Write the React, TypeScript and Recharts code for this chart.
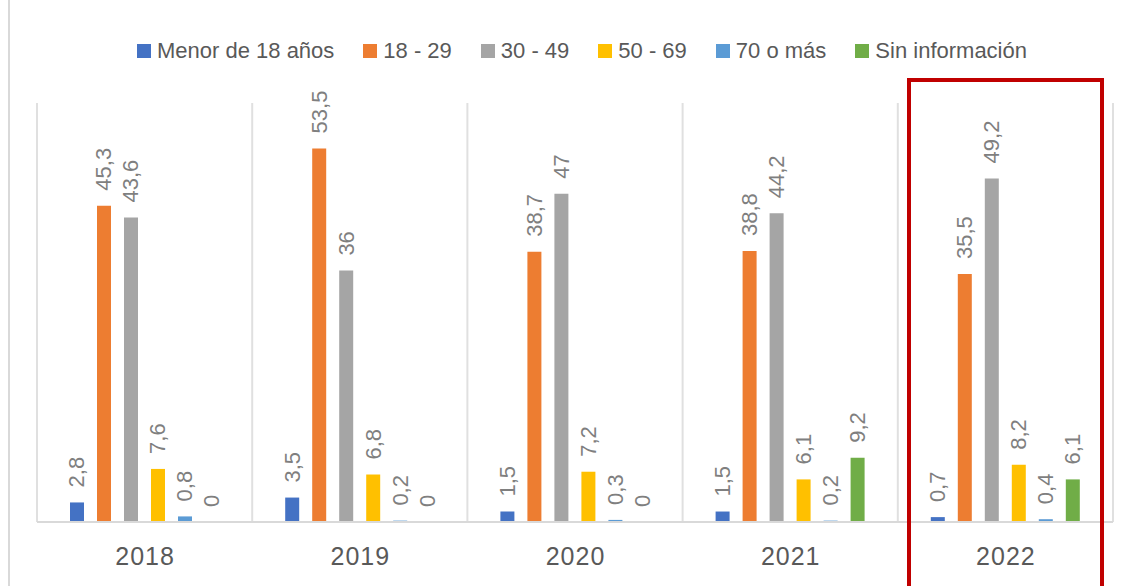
import React from "react";
import { BarChart, Bar, XAxis, YAxis, ReferenceLine, LabelList } from "recharts";

const years = ["2018", "2019", "2020", "2021", "2022"];
const seriesNames = ["Menor de 18 años", "18 - 29", "30 - 49", "50 - 69", "70 o más", "Sin información"];
const seriesColors = ["#4472C4", "#ED7D31", "#A5A5A5", "#FFC000", "#5B9BD5", "#70AD47"];

const menor18 = [2.8, 3.5, 1.5, 1.5, 0.7];
const de18a29 = [45.3, 53.5, 38.7, 38.8, 35.5];
const de30a49 = [43.6, 36, 47, 44.2, 49.2];
const de50a69 = [7.6, 6.8, 7.2, 6.1, 8.2];
const de70 = [0.8, 0.2, 0.3, 0.2, 0.4];
const sinInfo = [0, 0, 0, 9.2, 6.1];

const seriesValues = [menor18, de18a29, de30a49, de50a69, de70, sinInfo];
const keys = ["s0", "s1", "s2", "s3", "s4", "s5"];

const data = years.map((year, i) => {
	const row: any = { year };
	keys.forEach((k, j) => {
		row[k] = seriesValues[j][i];
	});
	return row;
});

const FONT = "'Liberation Sans', Arial, sans-serif";

const ValueLabel = (props: any) => {
	const { x, y, width, value } = props;
	const cx = Number(x) + Number(width) / 2;
	const cy = Number(y) - 15;
	return (
		<text
			x={cx}
			y={cy}
			transform={`rotate(-90 ${cx} ${cy})`}
			textAnchor="start"
			dominantBaseline="central"
			fill="#7F7F7F"
			fontSize={22}
			fontFamily={FONT}
		>
			{String(value).replace(".", ",")}
		</text>
	);
};

const YearTick = (props: any) => {
	const { x, y, payload } = props;
	return (
		<text
			x={Number(x) + 0.5}
			y={Number(y) + 43}
			textAnchor="middle"
			fill="#595959"
			fontSize={25}
			letterSpacing={1}
			fontFamily={FONT}
		>
			{payload.value}
		</text>
	);
};

const App = () => {
	return (
		<div style={{ position: "absolute", left: 0, top: 0, width: 1130, height: 586, background: "#fff", overflow: "hidden" }}>
			<div style={{ position: "absolute", left: 8, top: 0, width: 2, height: 586, background: "#d9d9d9" }} />
			<div
				style={{
					position: "absolute",
					left: 137,
					top: 37,
					display: "flex",
					alignItems: "center",
					fontFamily: FONT,
					fontSize: 22,
					lineHeight: "28px",
					color: "#595959",
					whiteSpace: "nowrap",
				}}
			>
				{seriesNames.map((name, i) => (
					<div key={name} style={{ display: "flex", alignItems: "center", marginRight: i < seriesNames.length - 1 ? 29 : 0 }}>
						<span style={{ display: "inline-block", width: 14, height: 14, background: seriesColors[i], marginRight: 6 }} />
						<span>{name}</span>
					</div>
				))}
			</div>
			<BarChart
				width={1130}
				height={586}
				data={data}
				margin={{ top: 103, right: 17, bottom: 0, left: 37 }}
				barSize={14}
				barGap={13}
			>
				<XAxis
					dataKey="year"
					height={64}
					axisLine={{ stroke: "#d9d9d9", strokeWidth: 2 }}
					tickLine={false}
					tickSize={0}
					tickMargin={0}
					tick={<YearTick />}
					interval={0}
				/>
				<YAxis hide domain={[0, 60]} />
				{years.map((y) => (
					<ReferenceLine key={y} x={y} position="start" stroke="#e0e0e0" strokeWidth={2} />
				))}
				<ReferenceLine x={years[years.length - 1]} position="end" stroke="#e0e0e0" strokeWidth={2} />
				{keys.map((k, j) => (
					<Bar key={k} dataKey={k} name={seriesNames[j]} fill={seriesColors[j]} minPointSize={0.01} isAnimationActive={false}>
						<LabelList dataKey={k} content={<ValueLabel />} />
					</Bar>
				))}
			</BarChart>
			<div
				style={{
					position: "absolute",
					left: 907,
					top: 78,
					width: 189,
					height: 600,
					border: "4px solid #C00000",
				}}
			/>
		</div>
	);
};

export default App;
